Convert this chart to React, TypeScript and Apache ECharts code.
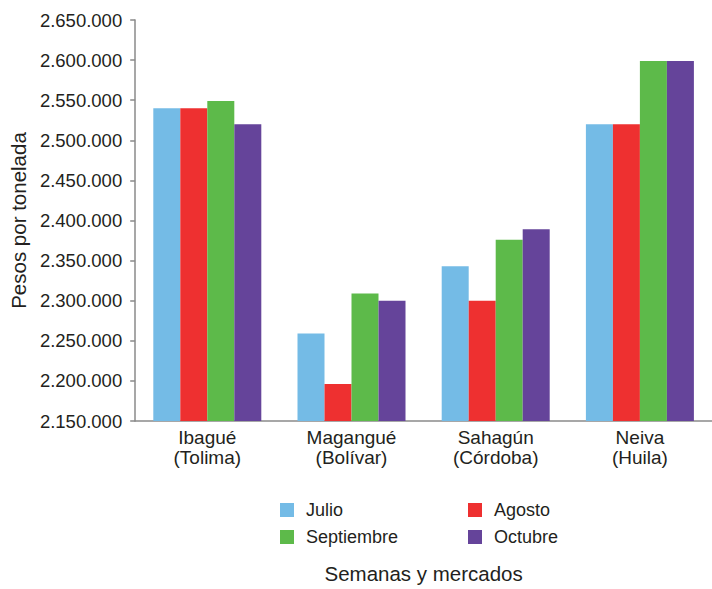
import React, { useEffect, useRef } from "react";
import * as echarts from "echarts";

const categories = ["Ibagué\n(Tolima)", "Magangué\n(Bolívar)", "Sahagún\n(Córdoba)", "Neiva\n(Huila)"];
const seriesNames = ["Julio", "Agosto", "Septiembre", "Octubre"];
const julio = [2540000, 2259000, 2343000, 2520000];
const agosto = [2540000, 2196000, 2300000, 2520000];
const septiembre = [2549000, 2309000, 2376000, 2599000];
const octubre = [2520000, 2300000, 2389000, 2599000];
const colors = ["#74bbe6", "#ee3030", "#5dba4a", "#65449a"];
const yMin = 2150000;
const yMax = 2650000;
const yInterval = 50000;

const FONT = "'Liberation Sans', Arial, Helvetica, sans-serif";
const TEXT = "#231f20";

function fmt(v: number): string {
  return String(Math.round(v)).replace(/\B(?=(\d{3})+(?!\d))/g, ".");
}

export default function App() {
  const ref = useRef<HTMLDivElement>(null);
  useEffect(() => {
    if (!ref.current) return;
    const chart = echarts.init(ref.current, null, { renderer: "svg" });
    const data = [julio, agosto, septiembre, octubre];
    const legendCommon = {
      orient: "vertical",
      top: 501,
      padding: 0,
      itemWidth: 14,
      itemHeight: 14,
      itemGap: 9,
      icon: "rect",
      selectedMode: false,
      textStyle: { fontFamily: FONT, fontSize: 18, color: TEXT, padding: [0, 0, 0, 7] },
    };
    chart.setOption({
      animation: false,
      textStyle: { fontFamily: FONT },
      grid: { left: 123, top: 20, width: 596, height: 407, containLabel: false },
      legend: [
        { ...legendCommon, left: 280, data: ["Julio", "Septiembre"] },
        { ...legendCommon, left: 468, data: ["Agosto", "Octubre"] },
      ],
      xAxis: {
        type: "category",
        data: categories,
        name: "Semanas y mercados",
        nameLocation: "middle",
        nameGap: 142,
        nameTextStyle: { fontFamily: FONT, fontSize: 20.5, color: TEXT },
        axisLine: { lineStyle: { color: "#8a8a8a", width: 1.5 } },
        axisTick: { show: false },
        axisLabel: { fontFamily: FONT, fontSize: 19, color: TEXT, lineHeight: 20, margin: 6 },
      },
      yAxis: {
        type: "value",
        min: yMin,
        max: yMax,
        interval: yInterval,
        name: "Pesos por tonelada",
        nameLocation: "middle",
        nameGap: 93,
        nameTextStyle: { fontFamily: FONT, fontSize: 20.5, color: TEXT },
        splitLine: { show: false },
        axisLine: { show: true, lineStyle: { color: "#8a8a8a", width: 1.5 } },
        axisTick: { show: true, length: 5, lineStyle: { color: "#8a8a8a", width: 1.5 } },
        axisLabel: { fontFamily: FONT, fontSize: 18.5, color: TEXT, margin: 13, formatter: (v: number) => fmt(v) },
      },
      series: seriesNames.map((name, i) => ({
        name,
        type: "bar",
        data: data[i],
        barWidth: 27,
        barGap: "0%",
        itemStyle: { color: colors[i] },
      })),
    });
    return () => chart.dispose();
  }, []);
  return <div ref={ref} style={{ position: "absolute", left: 0, top: 0, width: 712, height: 589 }} />;
}
